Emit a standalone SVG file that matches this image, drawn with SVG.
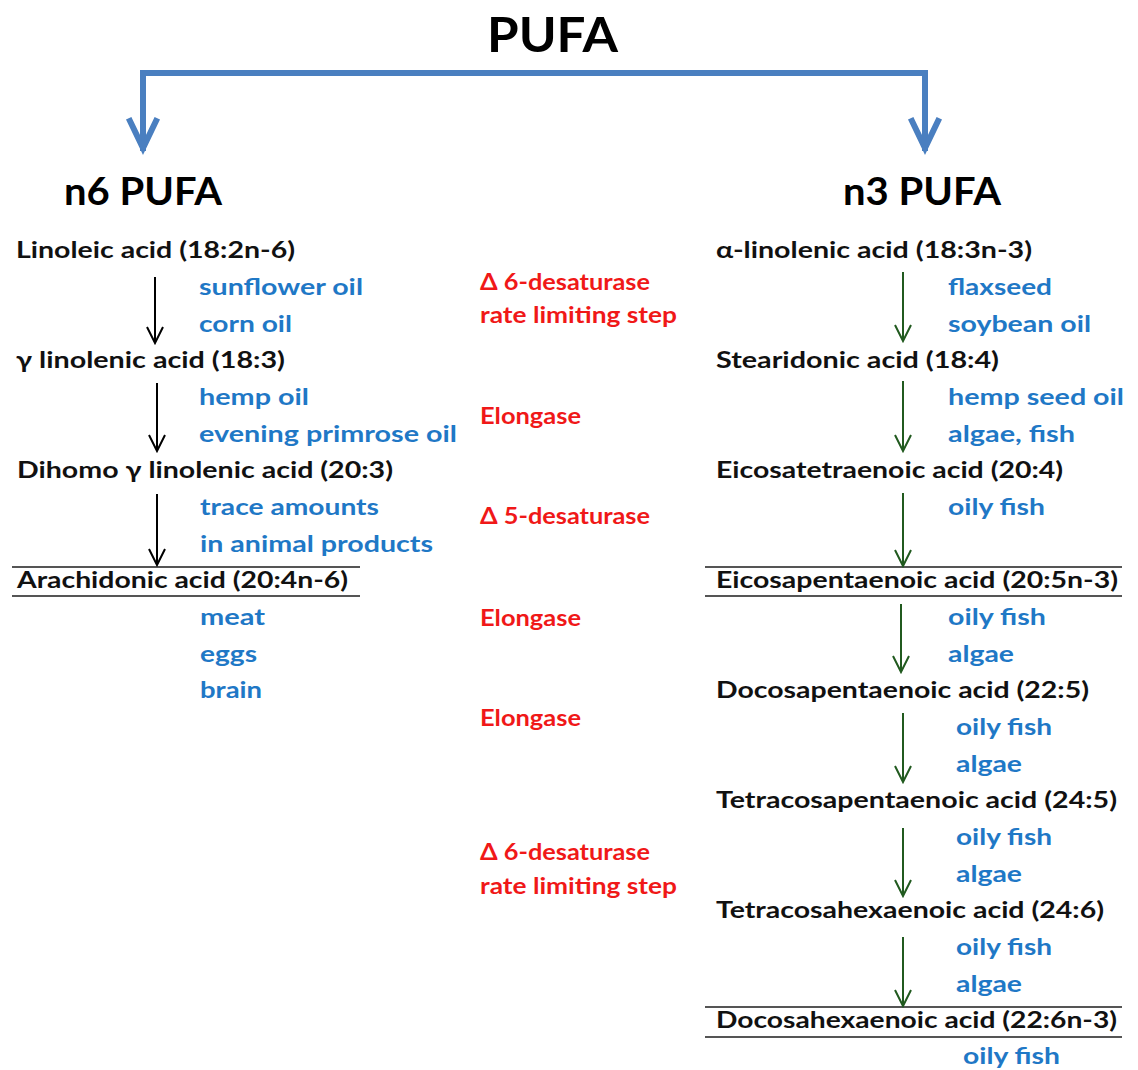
<svg xmlns="http://www.w3.org/2000/svg" width="1138" height="1070" viewBox="0 0 1138 1070">
<style>
text{font-family:Lato,"Open Sans","Liberation Sans",sans-serif;font-weight:bold}
.t{font-size:48px;fill:#000}
.h{font-size:38px;fill:#000}
.k{font-size:23px;fill:#111}
.b{font-size:23px;fill:#1f78c6}
.r{font-size:23px;fill:#f01818}
.bl{stroke:#4a7fc0;stroke-width:6;fill:none;stroke-linecap:square}
.ar{stroke:#000;stroke-width:2;fill:none}
.gr{stroke:#215a1f;stroke-width:2;fill:none}
.ul{stroke:#555;stroke-width:2}
</style>
<rect width="1138" height="1070" fill="#fff"/>
<g id="title"><text class="t" x="487" y="52" textLength="131" lengthAdjust="spacingAndGlyphs">PUFA</text></g>
<g id="n6"><text class="h" x="64" y="205" textLength="158" lengthAdjust="spacingAndGlyphs">n6 PUFA</text></g>
<g id="n3"><text class="h" x="843" y="205" textLength="158" lengthAdjust="spacingAndGlyphs">n3 PUFA</text></g>

<g id="left-column">
<text class="k" x="16" y="258" textLength="279" lengthAdjust="spacingAndGlyphs">Linoleic acid (18:2n-6)</text>
<text class="b" x="199" y="295" textLength="164" lengthAdjust="spacingAndGlyphs">sunflower oil</text>
<text class="b" x="199" y="332" textLength="93" lengthAdjust="spacingAndGlyphs">corn oil</text>
<text class="k" x="16" y="368" textLength="269" lengthAdjust="spacingAndGlyphs">γ linolenic acid (18:3)</text>
<text class="b" x="199" y="405" textLength="110" lengthAdjust="spacingAndGlyphs">hemp oil</text>
<text class="b" x="199" y="442" textLength="258" lengthAdjust="spacingAndGlyphs">evening primrose oil</text>
<text class="k" x="17" y="478" textLength="376" lengthAdjust="spacingAndGlyphs">Dihomo γ linolenic acid (20:3)</text>
<text class="b" x="200" y="515" textLength="179" lengthAdjust="spacingAndGlyphs">trace amounts</text>
<text class="b" x="200" y="552" textLength="233" lengthAdjust="spacingAndGlyphs">in animal products</text>
<text class="k" x="17" y="588" textLength="331" lengthAdjust="spacingAndGlyphs">Arachidonic acid (20:4n-6)</text>
<line class="ul" x1="12" y1="567" x2="360" y2="567"/>
<line class="ul" x1="12" y1="596" x2="360" y2="596"/>
<text class="b" x="200" y="625" textLength="65" lengthAdjust="spacingAndGlyphs">meat</text>
<text class="b" x="200" y="662" textLength="57" lengthAdjust="spacingAndGlyphs">eggs</text>
<text class="b" x="200" y="698" textLength="62" lengthAdjust="spacingAndGlyphs">brain</text>
</g>

<g id="enzymes">
<text class="r" x="480" y="290" textLength="170" lengthAdjust="spacingAndGlyphs">Δ 6-desaturase</text>
<text class="r" x="480" y="323" textLength="197" lengthAdjust="spacingAndGlyphs">rate limiting step</text>
<text class="r" x="480" y="424" textLength="101" lengthAdjust="spacingAndGlyphs">Elongase</text>
<text class="r" x="480" y="524" textLength="170" lengthAdjust="spacingAndGlyphs">Δ 5-desaturase</text>
<text class="r" x="480" y="626" textLength="101" lengthAdjust="spacingAndGlyphs">Elongase</text>
<text class="r" x="480" y="726" textLength="101" lengthAdjust="spacingAndGlyphs">Elongase</text>
<text class="r" x="480" y="860" textLength="170" lengthAdjust="spacingAndGlyphs">Δ 6-desaturase</text>
<text class="r" x="480" y="894" textLength="197" lengthAdjust="spacingAndGlyphs">rate limiting step</text>
</g>

<g id="right-column">
<text class="k" x="716" y="258" textLength="316" lengthAdjust="spacingAndGlyphs">α-linolenic acid (18:3n-3)</text>
<text class="b" x="948" y="295" textLength="104" lengthAdjust="spacingAndGlyphs">flaxseed</text>
<text class="b" x="948" y="332" textLength="143" lengthAdjust="spacingAndGlyphs">soybean oil</text>
<text class="k" x="716" y="368" textLength="283" lengthAdjust="spacingAndGlyphs">Stearidonic acid (18:4)</text>
<text class="b" x="948" y="405" textLength="176" lengthAdjust="spacingAndGlyphs">hemp seed oil</text>
<text class="b" x="948" y="442" textLength="127" lengthAdjust="spacingAndGlyphs">algae, fish</text>
<text class="k" x="716" y="478" textLength="347" lengthAdjust="spacingAndGlyphs">Eicosatetraenoic acid (20:4)</text>
<text class="b" x="948" y="515" textLength="97" lengthAdjust="spacingAndGlyphs">oily fish</text>
<line class="ul" x1="705" y1="567" x2="1122" y2="567"/>
<text class="k" x="716" y="588" textLength="402" lengthAdjust="spacingAndGlyphs">Eicosapentaenoic acid (20:5n-3)</text>
<line class="ul" x1="705" y1="596" x2="1122" y2="596"/>
<text class="b" x="948" y="625" textLength="98" lengthAdjust="spacingAndGlyphs">oily fish</text>
<text class="b" x="948" y="662" textLength="66" lengthAdjust="spacingAndGlyphs">algae</text>
<text class="k" x="716" y="698" textLength="373" lengthAdjust="spacingAndGlyphs">Docosapentaenoic acid (22:5)</text>
<text class="b" x="956" y="735" textLength="96" lengthAdjust="spacingAndGlyphs">oily fish</text>
<text class="b" x="956" y="772" textLength="66" lengthAdjust="spacingAndGlyphs">algae</text>
<text class="k" x="716" y="808" textLength="401" lengthAdjust="spacingAndGlyphs">Tetracosapentaenoic acid (24:5)</text>
<text class="b" x="956" y="845" textLength="96" lengthAdjust="spacingAndGlyphs">oily fish</text>
<text class="b" x="956" y="882" textLength="66" lengthAdjust="spacingAndGlyphs">algae</text>
<text class="k" x="716" y="918" textLength="388" lengthAdjust="spacingAndGlyphs">Tetracosahexaenoic acid (24:6)</text>
<text class="b" x="956" y="955" textLength="96" lengthAdjust="spacingAndGlyphs">oily fish</text>
<text class="b" x="956" y="992" textLength="66" lengthAdjust="spacingAndGlyphs">algae</text>
<line class="ul" x1="705" y1="1007" x2="1122" y2="1007"/>
<text class="k" x="716" y="1028" textLength="401" lengthAdjust="spacingAndGlyphs">Docosahexaenoic acid (22:6n-3)</text>
<line class="ul" x1="705" y1="1037" x2="1122" y2="1037"/>
<text class="b" x="963" y="1064" textLength="97" lengthAdjust="spacingAndGlyphs">oily fish</text>
</g>

<g id="connectors">
<path class="bl" d="M143,148 V73 H925 V148"/>
<path class="bl" d="M130,121 L143,148 L156,121"/>
<path class="bl" d="M912,121 L925,148 L938,121"/>

<path class="ar" d="M155,277 V343 M147,327 L155,343 L163,327"/>
<path class="ar" d="M157,383 V451 M149,435 L157,451 L165,435"/>
<path class="ar" d="M157,494 V565 M149,549 L157,565 L165,549"/>

<path class="gr" d="M903,272 V341 M895,325 L903,341 L911,325"/>
<path class="gr" d="M903,381 V451 M895,435 L903,451 L911,435"/>
<path class="gr" d="M903,493 V566 M895,550 L903,566 L911,550"/>
<path class="gr" d="M901,604 V672 M893,656 L901,672 L909,656"/>
<path class="gr" d="M903,713 V782 M895,766 L903,782 L911,766"/>
<path class="gr" d="M903,828 V896 M895,880 L903,896 L911,880"/>
<path class="gr" d="M903,937 V1006 M895,990 L903,1006 L911,990"/>
</g>
</svg>
